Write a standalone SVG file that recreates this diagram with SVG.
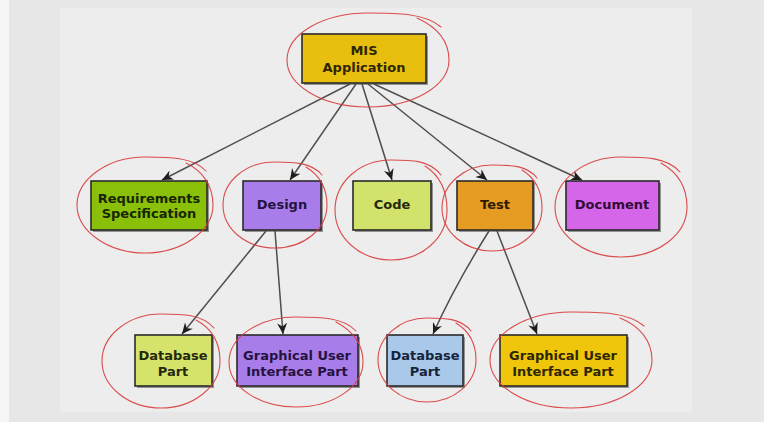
<svg xmlns="http://www.w3.org/2000/svg" width="764" height="422" viewBox="0 0 764 422">
<style>
.box{stroke:#2a2a2a;stroke-width:1.6}
.sh{fill:#4a4a4a;opacity:0.55}
.t{font-family:"DejaVu Sans","Verdana",sans-serif;font-weight:bold;font-size:13px;text-anchor:middle}
.c{fill:none;stroke:#4e4e4e;stroke-width:1.5}
.r{fill:none;stroke:#d83a3a;stroke-width:1.1;stroke-linecap:round;opacity:0.9}
</style>
<defs>
<marker id="ah" markerUnits="userSpaceOnUse" markerWidth="12" markerHeight="10" refX="11" refY="5" orient="auto">
<path d="M0,0 L11,5 L0,10 L3.5,5 z" fill="#1e1e1e"/>
</marker>
</defs>
<rect x="0" y="0" width="764" height="422" fill="#e7e7e7"/>
<rect x="0" y="0" width="9" height="422" fill="#f6f6f6"/>
<rect x="60" y="8" width="632" height="404" fill="#ededed"/>

<g id="connectors">
<line class="c" x1="350" y1="84" x2="162" y2="180" marker-end="url(#ah)"/>
<line class="c" x1="356" y1="84" x2="290" y2="180" marker-end="url(#ah)"/>
<line class="c" x1="362" y1="84" x2="392" y2="180" marker-end="url(#ah)"/>
<line class="c" x1="368" y1="84" x2="487" y2="180" marker-end="url(#ah)"/>
<line class="c" x1="374" y1="84" x2="582" y2="180" marker-end="url(#ah)"/>
<line class="c" x1="266" y1="231" x2="182" y2="334" marker-end="url(#ah)"/>
<line class="c" x1="275" y1="231" x2="283" y2="334" marker-end="url(#ah)"/>
<path class="c" d="M489,231 Q455,285 433,334" marker-end="url(#ah)"/>
<line class="c" x1="497" y1="231" x2="537" y2="334" marker-end="url(#ah)"/>
</g>

<g id="mis">
<rect class="sh" x="304" y="36" width="124" height="49"/>
<rect class="box" x="302" y="34" width="124" height="49" fill="#e9bf0f"/>
<text class="t" x="364" y="55" fill="#2e2600">MIS</text>
<text class="t" x="364" y="72" fill="#2e2600">Application</text>
</g>
<g id="req">
<rect class="sh" x="93" y="183" width="116" height="49"/>
<rect class="box" x="91" y="181" width="116" height="49" fill="#8bc00a"/>
<text class="t" x="149" y="203" fill="#172600">Requirements</text>
<text class="t" x="149" y="218" fill="#172600">Specification</text>
</g>
<g id="design">
<rect class="sh" x="245" y="183" width="78" height="49"/>
<rect class="box" x="243" y="181" width="78" height="49" fill="#a97de9"/>
<text class="t" x="282" y="209" fill="#24123f">Design</text>
</g>
<g id="code">
<rect class="sh" x="355" y="183" width="78" height="49"/>
<rect class="box" x="353" y="181" width="78" height="49" fill="#d3e26a"/>
<text class="t" x="392" y="209" fill="#25290c">Code</text>
</g>
<g id="test">
<rect class="sh" x="459" y="183" width="76" height="49"/>
<rect class="box" x="457" y="181" width="76" height="49" fill="#e69b22"/>
<text class="t" x="495" y="209" fill="#2c1b00">Test</text>
</g>
<g id="document">
<rect class="sh" x="568" y="183" width="93" height="49"/>
<rect class="box" x="566" y="181" width="93" height="49" fill="#d565e9"/>
<text class="t" x="612" y="209" fill="#300c36">Document</text>
</g>
<g id="db1">
<rect class="sh" x="137" y="337" width="77" height="51"/>
<rect class="box" x="135" y="335" width="77" height="51" fill="#d6e36b"/>
<text class="t" x="173" y="360" fill="#25290c">Database</text>
<text class="t" x="173" y="376" fill="#25290c">Part</text>
</g>
<g id="gui1">
<rect class="sh" x="239" y="337" width="121" height="51"/>
<rect class="box" x="237" y="335" width="121" height="51" fill="#a97de9"/>
<text class="t" x="297" y="360" fill="#24123f">Graphical User</text>
<text class="t" x="297" y="376" fill="#24123f">Interface Part</text>
</g>
<g id="db2">
<rect class="sh" x="389" y="337" width="76" height="51"/>
<rect class="box" x="387" y="335" width="76" height="51" fill="#a9c8ea"/>
<text class="t" x="425" y="360" fill="#16243a">Database</text>
<text class="t" x="425" y="376" fill="#16243a">Part</text>
</g>
<g id="gui2">
<rect class="sh" x="502" y="337" width="127" height="51"/>
<rect class="box" x="500" y="335" width="127" height="51" fill="#f0c60c"/>
<text class="t" x="563" y="360" fill="#2e2600">Graphical User</text>
<text class="t" x="563" y="376" fill="#2e2600">Interface Part</text>
</g>

<g id="annotations">
<path class="r" d="M441,27 C425,13 396,13 368,13 C323,13 287,34 287,60 C287,86 323,107 368,107 C413,107 449,86 449,60 C449,41 437,27 417,18"/>
<path class="r" d="M206,171 C193,157 169,157 145,157 C108,157 77,179 77,205 C77,231 108,253 145,253 C182,253 213,231 213,205 C213,186 203,171 186,163"/>
<path class="r" d="M322,175 C311,162 293,162 275,162 C246,162 223,181 223,205 C223,229 246,248 275,248 C304,248 327,229 327,205 C327,188 319,175 306,167"/>
<path class="r" d="M441,175 C430,160 411,160 391,160 C360,160 335,182 335,210 C335,238 360,260 391,260 C422,260 447,238 447,210 C447,190 439,175 425,166"/>
<path class="r" d="M537,178 C527,165 510,165 492,165 C465,165 442,184 442,208 C442,232 465,251 492,251 C520,251 542,232 542,208 C542,191 535,178 522,170"/>
<path class="r" d="M680,172 C667,157 644,157 621,157 C585,157 555,180 555,207 C555,235 585,257 621,257 C657,257 687,235 687,207 C687,187 677,172 661,163"/>
<path class="r" d="M214,328 C202,314 182,314 161,314 C129,314 102,335 102,361 C102,387 129,408 161,408 C193,408 220,387 220,361 C220,342 211,328 196,320"/>
<path class="r" d="M356,331 C343,317 319,317 296,317 C259,317 229,337 229,362 C229,387 259,407 296,407 C333,407 363,387 363,362 C363,344 353,331 336,322"/>
<path class="r" d="M471,331 C461,318 444,318 427,318 C400,318 378,337 378,360 C378,383 400,402 427,402 C454,402 476,383 476,360 C476,343 469,331 456,323"/>
<path class="r" d="M644,326 C628,312 599,312 571,312 C526,312 490,334 490,360 C490,386 526,408 571,408 C616,408 652,386 652,360 C652,341 640,326 620,318"/>
</g>
</svg>
